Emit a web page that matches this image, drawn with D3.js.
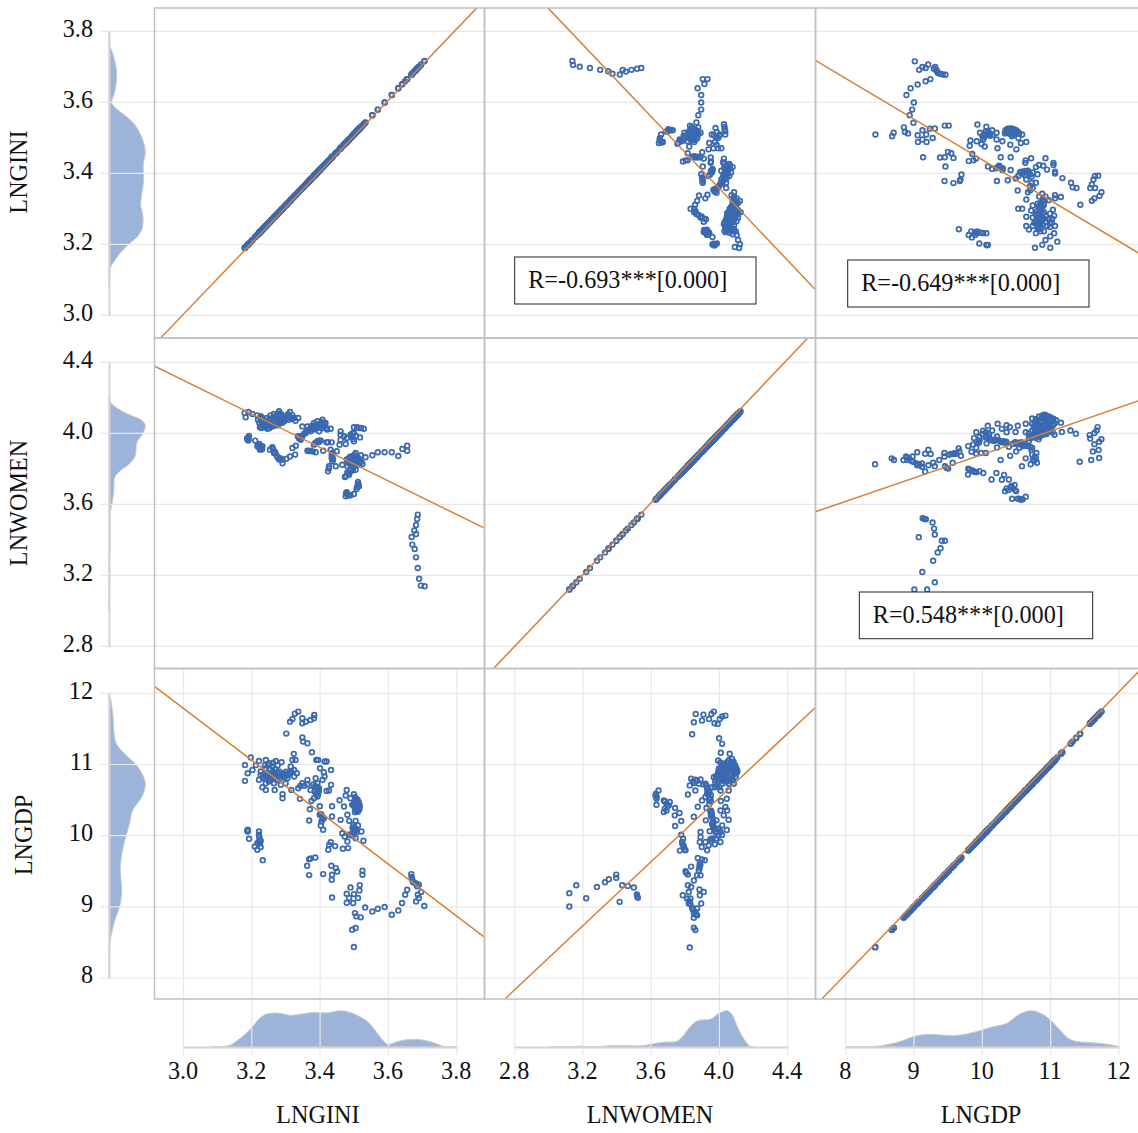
<!DOCTYPE html>
<html><head><meta charset="utf-8">
<script src="https://cdn.jsdelivr.net/npm/d3@7"></script>
<style>html,body{margin:0;padding:0;background:#fff}svg{display:block}text{font-family:"Liberation Serif","Times New Roman",serif;fill:#111}</style>
</head><body><svg id="c" width="1138" height="1133"></svg>
<script>
const variables = ["LNGINI","LNWOMEN","LNGDP"];
const tickValues = {
  LNGINI:[3.0,3.2,3.4,3.6,3.8],
  LNWOMEN:[2.8,3.2,3.6,4.0,4.4],
  LNGDP:[8,9,10,11,12]
};
const tickFormats = {LNGINI:".1f",LNWOMEN:".1f",LNGDP:"d"};

// [LNGINI, LNWOMEN]
const giniWomen = [
[3.179,4.115],[3.182,4.090],[3.190,4.120],[3.202,4.109],[3.216,4.101],[3.226,4.096],[3.218,4.077],[3.231,4.086],[3.222,4.058],[3.236,4.071],[3.224,4.034],[3.236,4.039],[3.246,4.026],[3.250,4.049],[3.244,4.086],[3.255,4.101],[3.265,4.109],[3.280,4.124],[3.273,4.086],[3.285,4.096],[3.265,4.068],[3.260,4.039],[3.277,4.045],[3.289,4.077],[3.299,4.096],[3.312,4.120],[3.319,4.101],[3.309,4.077],[3.324,4.086],[3.336,4.086],[3.328,4.071],[3.240,4.060],[3.255,4.075],[3.270,4.055],[3.290,4.060],[3.300,4.080],[3.232,4.050],[3.228,4.045],[3.245,4.050],[3.275,4.105],[3.262,4.090],
[3.226,4.085],[3.229,4.070],[3.233,4.060],[3.238,4.050],[3.242,4.042],[3.248,4.062],[3.252,4.082],[3.258,4.060],[3.263,4.050],[3.268,4.078],[3.272,4.098],[3.276,4.068],[3.280,4.112],[3.282,4.080],[3.284,4.060],[3.286,4.108],[3.294,4.085],[3.304,4.094],[3.306,4.108],[3.314,4.090],[3.318,4.082],[3.228,4.030],[3.240,4.034],[3.252,4.030],[3.268,4.044],[3.280,4.055],[3.296,4.070],
[3.189,3.977],[3.189,3.959],[3.192,3.985],[3.210,3.959],[3.222,3.940],[3.216,3.927],[3.224,3.908],[3.231,3.927],[3.228,3.915],[3.253,3.908],[3.260,3.921],[3.265,3.889],[3.275,3.865],[3.280,3.852],[3.290,3.852],[3.290,3.831],[3.301,3.857],[3.312,3.869],[3.327,3.880],[3.319,3.917],[3.329,3.930],
[3.186,3.970],[3.191,3.965],[3.218,3.935],[3.226,3.930],[3.222,3.918],[3.230,3.910],[3.262,3.912],[3.268,3.895],[3.272,3.878],[3.283,3.860],
[3.335,3.983],[3.343,3.964],[3.348,4.039],[3.363,4.039],[3.358,4.002],[3.372,4.030],[3.382,4.058],[3.392,4.068],[3.407,4.077],[3.411,4.039],[3.421,4.021],[3.431,4.026],[3.397,4.011],[3.343,3.983],[3.372,4.011],[3.392,4.030],[3.402,4.049],[3.416,4.058],[3.382,4.021],[3.350,3.990],[3.365,4.015],[3.400,4.035],
[3.338,3.972],[3.346,3.975],[3.353,3.998],[3.360,4.010],[3.368,4.022],[3.376,4.042],[3.384,4.040],[3.388,4.050],[3.396,4.050],[3.404,4.062],[3.408,4.052],[3.412,4.060],[3.386,4.030],[3.406,4.028],[3.418,4.030],[3.378,4.030],
[3.363,3.902],[3.372,3.902],[3.387,3.893],[3.382,3.936],[3.392,3.955],[3.402,3.959],[3.419,3.949],[3.434,3.949],[3.409,3.902],[3.431,3.908],[3.436,3.889],[3.449,3.899],[3.434,3.861],[3.436,3.842],[3.446,3.814],[3.426,3.814],[3.423,3.786],[3.460,4.011],[3.460,3.992],[3.470,3.983],[3.478,3.974],[3.460,3.964],[3.457,3.936],[3.475,3.940],[3.499,4.034],[3.514,4.030],[3.528,4.026],[3.499,4.002],[3.517,3.977],[3.499,3.955],[3.489,3.992],
[3.367,3.900],[3.378,3.898],[3.386,3.945],[3.396,3.950],[3.398,3.960],[3.423,3.950],[3.434,3.880],[3.436,3.870],[3.438,3.852],[3.426,3.802],[3.492,3.980],[3.497,3.968],[3.505,3.985],[3.495,4.000],[3.508,4.034],[3.520,4.030],
[3.465,3.823],[3.478,3.852],[3.489,3.870],[3.504,3.889],[3.519,3.876],[3.533,3.865],[3.553,3.876],[3.569,3.893],[3.589,3.893],[3.610,3.893],[3.629,3.872],[3.641,3.912],[3.655,3.930],[3.655,3.902],[3.499,3.852],[3.509,3.823],[3.524,3.827],[3.480,3.814],[3.489,3.795],[3.504,3.795],[3.499,3.833],[3.480,3.780],[3.473,3.754],[3.485,3.767],[3.495,3.862],[3.510,3.845],[3.490,3.840],[3.505,3.870],
[3.482,3.840],[3.486,3.828],[3.492,3.815],[3.497,3.805],[3.502,3.820],[3.507,3.835],[3.512,3.858],[3.516,3.845],[3.520,3.838],[3.494,3.848],[3.500,3.878],[3.510,3.866],[3.484,3.860],[3.476,3.760],[3.495,3.790],[3.482,3.772],
[3.511,3.726],[3.514,3.701],[3.507,3.686],[3.499,3.658],[3.478,3.668],[3.475,3.645],[3.489,3.651],[3.512,3.715],[3.510,3.708],[3.508,3.697],[3.480,3.655],[3.484,3.650],[3.476,3.662],
[3.686,3.542],[3.684,3.517],[3.681,3.484],[3.676,3.452],[3.681,3.433],[3.668,3.416],[3.670,3.373],[3.677,3.348],[3.681,3.301],[3.686,3.241],[3.690,3.181],[3.695,3.142],[3.706,3.138]
];

// [LNGINI, LNGDP]
const giniGdp = [
[3.312,11.602],[3.319,11.640],[3.326,11.715],[3.336,11.743],[3.348,11.649],[3.348,11.579],[3.358,11.602],[3.372,11.626],[3.382,11.649],[3.383,11.696],[3.301,11.434],[3.348,11.378],[3.350,11.322],[3.363,11.298],[3.376,11.172],[3.389,11.064],[3.394,11.064],[3.413,11.041],[3.419,11.041],[3.323,11.149],[3.319,11.064],[3.328,11.064],[3.400,10.947],[3.432,10.924],[3.411,10.891],[3.413,10.831],[3.407,10.784],
[3.197,11.097],[3.180,10.994],[3.188,10.877],[3.180,10.770],[3.202,10.924],[3.212,10.994],[3.221,11.050],[3.241,11.064],[3.251,11.018],[3.270,11.050],[3.287,11.032],[3.260,10.971],[3.241,10.947],[3.226,10.901],[3.221,10.784],[3.236,10.854],[3.251,10.854],[3.265,10.877],[3.280,10.901],[3.294,10.877],[3.314,10.971],[3.324,10.924],[3.332,10.877],[3.324,10.831],[3.304,10.807],[3.299,10.737],[3.285,10.714],[3.265,10.737],[3.255,10.784],[3.241,10.737],[3.231,10.681],[3.241,10.643],[3.267,10.643],[3.290,10.583],[3.290,10.526],[3.316,10.643],[3.341,10.517],[3.336,10.667],[3.348,10.737],[3.363,10.784],[3.372,10.643],[3.387,10.807],[3.392,10.737],[3.397,10.667],[3.392,10.550],[3.382,10.526],[3.375,10.489],[3.419,10.629],[3.426,10.634],[3.432,10.714],
[3.245,10.880],[3.258,10.830],[3.272,10.850],[3.285,10.860],[3.300,10.900],[3.250,10.760],[3.275,10.780],[3.262,10.900],[3.310,10.880],[3.380,10.720],[3.395,10.610],
[3.226,10.850],[3.232,10.820],[3.238,10.800],[3.244,10.830],[3.248,10.810],[3.254,10.870],[3.258,10.800],[3.264,10.850],[3.268,10.820],[3.270,10.790],[3.276,10.880],[3.278,10.830],[3.282,10.800],[3.288,10.850],[3.292,10.840],[3.296,10.820],[3.302,10.860],[3.306,10.850],[3.312,10.910],[3.316,10.900],[3.268,10.930],[3.252,10.940],[3.238,10.990],[3.262,11.020],[3.248,10.990],[3.276,10.990],[3.386,10.700],[3.390,10.680],[3.393,10.650],[3.396,10.630],[3.384,10.620],[3.388,10.590],[3.394,10.570],[3.362,10.720],[3.354,10.700],[3.342,10.700],
[3.457,10.498],[3.478,10.643],[3.475,10.564],[3.499,10.583],[3.489,10.526],[3.509,10.480],[3.514,10.409],[3.504,10.363],[3.494,10.433],[3.470,10.409],[3.480,10.293],[3.435,10.414],[3.435,10.269],[3.399,10.414],[3.370,10.372],[3.399,10.293],[3.411,10.246],[3.368,10.213],[3.402,10.143],[3.409,10.082],[3.460,10.222],[3.485,10.208],[3.504,10.208],[3.511,10.143],[3.499,10.059],[3.521,10.059],[3.485,10.012],[3.504,9.965],[3.465,10.035],[3.472,9.988],[3.480,9.918],[3.527,9.928],[3.431,9.909],[3.426,9.871],[3.424,9.801],[3.444,9.853],[3.467,9.815],[3.482,9.825],
[3.505,10.450],[3.512,10.390],[3.508,10.340],[3.500,10.120],[3.507,10.090],[3.496,10.040],
[3.502,10.540],[3.506,10.520],[3.510,10.500],[3.513,10.470],[3.515,10.440],[3.516,10.410],[3.515,10.370],[3.511,10.340],[3.503,10.500],[3.500,10.470],[3.498,10.440],[3.501,10.400],[3.506,10.420],[3.507,10.380],[3.502,10.330],[3.495,10.110],[3.499,10.090],[3.503,10.070],[3.508,10.050],[3.497,10.150],[3.490,10.020],[3.495,10.000],[3.403,10.300],[3.406,10.270],[3.408,10.230],[3.404,10.200],
[3.188,10.082],[3.188,10.059],[3.192,9.956],[3.221,10.059],[3.221,10.012],[3.226,9.928],[3.216,9.895],[3.209,9.848],[3.226,9.839],[3.216,9.801],[3.232,9.656],[3.187,10.070],[3.222,9.980],[3.221,9.920],[3.224,9.890],
[3.368,9.670],[3.386,9.694],[3.362,9.577],[3.368,9.446],[3.409,9.460],[3.433,9.577],[3.446,9.544],[3.450,9.497],[3.435,9.450],[3.434,9.380],[3.435,9.132],[3.524,9.507],[3.524,9.450],[3.372,9.680],
[3.489,9.273],[3.516,9.305],[3.515,9.231],[3.478,9.184],[3.499,9.179],[3.485,9.123],[3.511,9.123],[3.478,9.058],[3.497,9.053],[3.532,8.992],[3.553,8.936],[3.569,8.973],[3.589,8.997],[3.610,8.889],[3.629,8.950],[3.640,9.053],[3.649,9.170],[3.655,9.240],[3.667,9.460],[3.670,9.380],[3.677,9.333],[3.689,9.310],[3.696,9.207],[3.686,9.170],[3.689,9.123],[3.681,9.076],[3.705,9.011],[3.502,8.912],[3.506,8.866],[3.519,8.852],[3.494,8.679],[3.504,8.702],[3.499,8.435],[3.668,9.420],[3.672,9.350],[3.684,9.290],[3.680,9.330]
];

// [LNWOMEN, LNGDP]
const womenGdp = [
[3.120,9.192],[3.161,9.304],[3.120,9.005],[3.219,9.121],[3.282,9.280],[3.329,9.346],[3.352,9.388],[3.395,9.453],[3.395,9.407],[3.430,9.304],[3.463,9.294],[3.498,9.271],[3.516,9.173],[3.522,9.126],[3.415,9.070],[3.518,9.150],
[3.643,10.635],[3.625,10.565],[3.631,10.519],[3.631,10.435],[3.674,10.495],[3.690,10.449],[3.709,10.472],[3.674,10.332],[3.690,10.355],[3.703,10.425],[3.740,10.388],[3.738,10.285],[3.766,10.318],[3.776,10.206],[3.740,10.135],[3.776,10.014],[3.781,9.911],[3.791,9.841],[3.801,9.794],[3.768,9.790],[3.787,9.958],
[3.628,10.590],[3.632,10.545],[3.680,10.480],[3.696,10.420],[3.680,10.380],[3.783,9.880],[3.790,9.860],[3.796,9.810],
[3.815,10.579],[3.834,10.799],[3.826,10.706],[3.859,10.785],[3.859,10.635],[3.889,10.790],[3.918,10.729],[3.928,10.659],[3.918,10.542],[3.898,10.495],[3.947,10.519],[3.928,10.589],[3.873,10.407],[3.924,10.388],[3.850,10.266],[3.947,10.332],[3.957,10.262],[3.920,10.215],[3.957,10.168],[3.982,10.215],[4.006,10.355],[4.035,10.402],[4.045,10.355],[4.025,10.285],[4.054,10.224],[4.016,10.145],[4.043,10.079],[4.006,10.051],[3.976,10.051],[3.943,10.061],[3.889,10.051],[3.889,9.981],[3.885,9.911],[3.918,9.911],[3.947,9.949],[3.973,9.878],[4.006,9.911],[3.896,9.841],[3.928,9.794],[3.937,9.864],[4.008,10.486],[4.043,10.519],
[3.940,10.440],[3.950,10.480],[3.960,10.150],[3.965,10.110],[3.990,10.100],[3.995,10.000],[4.015,10.010],[3.950,10.280],
[3.845,10.760],[3.852,10.740],[3.870,10.770],[3.880,10.730],[3.905,10.720],[3.925,10.700],[3.930,10.620],[3.935,10.580],[3.942,10.610],[3.950,10.570],[3.938,10.510],[3.952,10.350],[3.955,10.310],[3.960,10.240],[3.965,10.190],[3.962,10.140],[3.975,10.090],[3.985,10.060],[3.998,10.090],[3.960,9.960],[3.980,9.960],[3.950,9.920],
[3.992,11.056],[4.016,10.986],[4.045,11.033],[4.074,11.079],[4.060,11.150],[4.084,11.009],[4.103,10.892],[4.074,10.916],[4.045,10.916],[4.016,10.892],[3.996,10.939],[3.986,10.822],[4.016,10.799],[4.045,10.799],[4.074,10.822],[4.094,10.869],[4.054,10.729],[4.016,10.729],[3.976,10.729],[3.957,10.680],[4.006,10.635],[4.054,10.635],[4.084,10.729],[3.967,10.822],[4.035,10.963],[4.064,10.963],[4.090,10.960],[4.100,10.930],[4.060,10.860],[4.030,10.860],[4.000,10.860],[4.070,11.020],[4.030,10.760],[4.080,10.780],
[4.005,11.030],[4.025,11.010],[4.055,11.060],[4.082,11.040],[4.092,10.990],[4.098,10.950],[4.105,10.910],[4.088,10.880],[4.070,10.860],[4.075,10.790],[4.060,10.780],[4.045,10.760],[4.020,10.770],[4.000,10.790],[3.990,10.760],[3.975,10.780],[3.980,10.840],[3.992,10.880],[4.010,10.920],[4.025,10.940],[4.040,10.890],[4.055,10.930],[4.070,10.950],[4.085,10.930],[4.040,10.830],[4.060,10.810],[4.005,10.820],[4.025,10.830],[4.050,10.990],[4.030,11.000],[4.010,10.960],[3.995,10.910],[4.095,10.830],[3.985,10.700],[3.972,10.680],[4.000,10.680],
[3.861,11.710],[3.906,11.701],[3.953,11.710],[3.967,11.743],[3.898,11.617],[3.939,11.640],[3.850,11.593],[3.971,11.579],[3.990,11.570],[4.002,11.640],[4.016,11.673],[4.035,11.687],[3.840,11.425],[3.998,11.369],[4.016,11.290],[4.008,11.164],
[3.873,9.687],[3.898,9.664],[3.914,9.654],[3.834,9.565],[3.801,9.500],[3.815,9.453],[3.883,9.575],[3.879,9.514],[3.869,9.444],[3.889,9.444],[3.850,9.369],[3.815,9.304],[3.834,9.280],[3.820,9.210],[3.883,9.243],[3.908,9.210],[3.885,9.163],[3.785,9.163],[3.811,9.117],[3.830,9.117],[3.820,9.047],[3.893,9.047],[3.840,8.986],[3.869,8.977],[3.850,8.906],[3.869,8.883],[3.850,8.846],[3.850,8.706],[3.859,8.673],[3.826,8.430],
[3.805,9.480],[3.885,9.620],[3.888,9.590],[3.884,9.545],[3.822,9.080],[3.830,9.040],[3.845,8.960],[3.858,8.930],[3.862,8.890]
];

// Marginal density curves [value, relative height]
const giniDensity = [[3.08,0],[3.122,.02],[3.137,.05],[3.156,.17],[3.176,.31],[3.2,.54],[3.224,.8],[3.244,.91],[3.268,.94],[3.293,.91],[3.312,.87],[3.341,.9],[3.38,.95],[3.42,.94],[3.459,1],[3.488,.95],[3.517,.83],[3.541,.68],[3.566,.4],[3.585,.17],[3.6,.07],[3.624,.14],[3.654,.2],[3.683,.21],[3.712,.17],[3.741,.09],[3.766,.01],[3.8,0]];
const womenDensity = [[3.0,0],[3.12,.003],[3.18,.02],[3.24,.005],[3.3,.01],[3.36,.035],[3.45,.035],[3.52,.03],[3.56,.04],[3.613,.09],[3.672,.13],[3.74,.14],[3.78,.26],[3.828,.56],[3.887,.74],[3.936,.75],[4.0,.93],[4.04,1],[4.072,.91],[4.111,.49],[4.15,.17],[4.184,.01],[4.21,0]];
const gdpDensity = [[8.0,0],[8.405,.01],[8.6,.06],[8.795,.15],[9,.29],[9.234,.35],[9.527,.31],[9.77,.36],[10,.47],[10.16,.56],[10.356,.65],[10.55,.91],[10.72,1],[10.84,.94],[11,.74],[11.137,.46],[11.283,.21],[11.43,.14],[11.67,.11],[11.87,.06],[12,.01]];

// Fitted lines, as two end values [x0,y0,x1,y1]
const fitGiniOnGini = [2.934,2.937,3.859,3.866];
const fitGiniOnWomen = [2.995,3.866,4.559,3.074];
const fitGiniOnGdp = [7.55,3.719,12.28,3.176];
const fitWomenOnGini = [2.914,4.379,3.880,3.467];
const fitWomenOnWomen = [2.679,2.678,4.518,4.537];
const fitWomenOnGdp = [7.55,3.557,12.28,4.182];
const fitGdpOnGini = [2.914,12.102,3.880,8.577];
const fitGdpOnWomen = [2.743,7.706,4.559,11.793];
const fitGdpOnGdp = [7.65,7.706,12.28,12.30];

const corrLabels = ["R=-0.693***[0.000]","R=-0.649***[0.000]","R=0.548***[0.000]"];

/* ---------- layout ---------- */
const COLORS = {point:"#3a69b0",line:"#d98036",area:"#9cb4d9",areaStroke:"#c9c9c9",grid:"#e8e8e8",frame:"#c0c0c0",axis:"#d4d4d4"};
const colEdges = [154.5,484.5,815.5,1146];
const rowEdges = [8,338,668.5,999];
const rowMarkOffset = [-3.7,0,0];
const xScales = {
  LNGINI:d3.scaleLinear().domain([3.0,3.8]).range([183.5,456.7]),
  LNWOMEN:d3.scaleLinear().domain([2.8,4.4]).range([514.7,787.7]),
  LNGDP:d3.scaleLinear().domain([8,12]).range([845.7,1119])
};
const yScales = {
  LNGINI:d3.scaleLinear().domain([3.0,3.8]).range([315.3,31.3]),
  LNWOMEN:d3.scaleLinear().domain([2.8,4.4]).range([646.3,362.3]),
  LNGDP:d3.scaleLinear().domain([8,12]).range([978,693.3])
};
const heightScale = d3.scaleLinear().domain([0,1]).range([0,36.3]);
const baseX = 109, baseY = 1047, fontSize = 24.2;

const svg = d3.select("#c");
const defs = svg.append("defs");

/* ---------- data wiring ---------- */
const flip = a => a.map(d=>[d[1],d[0]]);
const pts = {
  LNGINI:{LNGINI:null,LNWOMEN:flip(giniWomen),LNGDP:flip(giniGdp)},
  LNWOMEN:{LNGINI:giniWomen,LNWOMEN:null,LNGDP:flip(womenGdp)},
  LNGDP:{LNGINI:giniGdp,LNWOMEN:womenGdp,LNGDP:null}
};
const diag = {
  LNGINI:giniWomen.map(d=>d[0]).concat(giniGdp.map(d=>d[0])),
  LNWOMEN:giniWomen.map(d=>d[1]).concat(womenGdp.map(d=>d[0])),
  LNGDP:giniGdp.map(d=>d[1]).concat(womenGdp.map(d=>d[1]))
};
const fits = {
  LNGINI:{LNGINI:fitGiniOnGini,LNWOMEN:fitGiniOnWomen,LNGDP:fitGiniOnGdp},
  LNWOMEN:{LNGINI:fitWomenOnGini,LNWOMEN:fitWomenOnWomen,LNGDP:fitWomenOnGdp},
  LNGDP:{LNGINI:fitGdpOnGini,LNWOMEN:fitGdpOnWomen,LNGDP:fitGdpOnGdp}
};
const density = {LNGINI:giniDensity,LNWOMEN:womenDensity,LNGDP:gdpDensity};

/* ---------- marginal densities ---------- */
variables.forEach(v=>{
  const dens = density[v];
  svg.append("path").datum(dens)
    .attr("d",d3.area().curve(d3.curveMonotoneX).x(d=>xScales[v](d[0])).y0(baseY).y1(d=>baseY-heightScale(d[1])))
    .attr("fill",COLORS.area).attr("stroke",COLORS.areaStroke).attr("stroke-width",1);
  svg.append("path").datum(dens)
    .attr("d",d3.area().curve(d3.curveMonotoneY).y(d=>yScales[v](d[0])).x0(baseX).x1(d=>baseX+heightScale(d[1])))
    .attr("fill",COLORS.area).attr("stroke",COLORS.areaStroke).attr("stroke-width",1);
});

/* ---------- grid ---------- */
variables.forEach((v,r)=>{
  svg.append("g").selectAll("line").data(tickValues[v]).join("line")
    .attr("x1",100).attr("x2",1138)
    .attr("y1",d=>yScales[v](d)).attr("y2",d=>yScales[v](d))
    .attr("stroke",COLORS.grid).attr("stroke-width",1.2);
  svg.append("g").selectAll("line").data(tickValues[v]).join("line")
    .attr("y1",rowEdges[2]).attr("y2",baseY+8)
    .attr("x1",d=>xScales[v](d)).attr("x2",d=>xScales[v](d))
    .attr("stroke",COLORS.grid).attr("stroke-width",1.2);
});

/* ---------- axes ---------- */
variables.forEach(v=>{
  const left = svg.append("g").attr("transform",`translate(${baseX},0)`)
    .call(d3.axisLeft(yScales[v]).tickValues(tickValues[v]).tickFormat(d3.format(tickFormats[v])).tickSizeInner(9).tickSizeOuter(0).tickPadding(7));
  left.select(".domain").attr("stroke",COLORS.axis).attr("stroke-width",2);
  left.selectAll(".tick line").remove();
  left.selectAll("text").attr("font-size",fontSize).attr("dy",".2em").style("font-family",'"Liberation Serif",serif').attr("fill","#111");
  const bottom = svg.append("g").attr("transform",`translate(0,${baseY})`)
    .call(d3.axisBottom(xScales[v]).tickValues(tickValues[v]).tickFormat(d3.format(tickFormats[v])).tickSizeInner(8).tickSizeOuter(0).tickPadding(6.5));
  bottom.select(".domain").attr("stroke",COLORS.axis).attr("stroke-width",2.2);
  bottom.selectAll(".tick line").remove();
  bottom.selectAll("text").attr("font-size",fontSize).attr("x",-1).style("font-family",'"Liberation Serif",serif').attr("fill","#111");
});

/* ---------- panels ---------- */
variables.forEach((yv,r)=>{
  variables.forEach((xv,c)=>{
    const x0=colEdges[c],x1=colEdges[c+1],y0=rowEdges[r],y1=rowEdges[r+1];
    const id=`clip${r}${c}`;
    defs.append("clipPath").attr("id",id).append("rect").attr("x",x0).attr("y",y0).attr("width",x1-x0).attr("height",y1-y0);
    const g=svg.append("g").attr("clip-path",`url(#${id})`);
    const X=xScales[xv],Y=yScales[yv];
    const data = xv===yv ? diag[xv].map(d=>[d,d]) : pts[yv][xv];
    g.append("g").attr("transform",`translate(0,${rowMarkOffset[r]})`)
      .selectAll("circle").data(data).join("circle")
      .attr("cx",d=>X(d[0])).attr("cy",d=>Y(d[1])).attr("r",2.35)
      .attr("fill","none").attr("stroke",COLORS.point).attr("stroke-width",1.7);
    const f = fits[yv][xv];
    g.append("line").attr("x1",X(f[0])).attr("y1",Y(f[1])).attr("x2",X(f[2])).attr("y2",Y(f[3]))
      .attr("stroke",COLORS.line).attr("stroke-width",1.5);
    svg.append("rect").attr("x",x0).attr("y",y0).attr("width",x1-x0).attr("height",y1-y0)
      .attr("fill","none").attr("stroke",COLORS.frame).attr("stroke-width",1.5);
  });
});

/* ---------- correlation boxes ---------- */
const boxes = [
  {t:corrLabels[0],x:514.7,y:257,w:241.3,h:47},
  {t:corrLabels[1],x:847.7,y:260,w:241.3,h:47},
  {t:corrLabels[2],x:859.3,y:592,w:233.4,h:46.7}
];
boxes.forEach(b=>{
  svg.append("rect").attr("x",b.x).attr("y",b.y).attr("width",b.w).attr("height",b.h)
    .attr("fill","#fff").attr("stroke","#222").attr("stroke-width",1);
  svg.append("text").attr("x",b.x+13.5).attr("y",b.y+31).attr("font-size",fontSize).text(b.t);
});

/* ---------- titles ---------- */
const bottomTitleX=[318,650,981];
variables.forEach((v,i)=>{
  svg.append("text").attr("x",bottomTitleX[i]).attr("y",1123).attr("text-anchor","middle").attr("font-size",fontSize).text(v);
});
const leftTitleY=[172,503,835],leftTitleX=[27,27,32];
variables.forEach((v,i)=>{
  svg.append("text").attr("transform",`translate(${leftTitleX[i]},${leftTitleY[i]}) rotate(-90)`)
    .attr("text-anchor","middle").attr("font-size",fontSize).text(v);
});
</script></body></html>
